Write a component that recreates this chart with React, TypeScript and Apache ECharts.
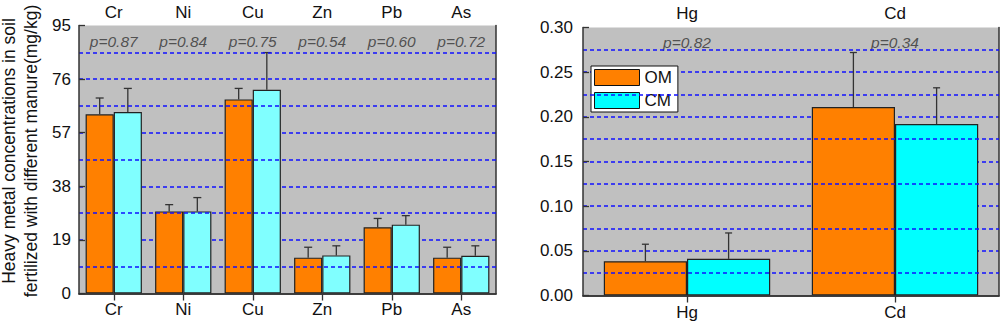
import React, { useEffect, useRef } from "react";
import * as echarts from "echarts";

const leftCategories = ["Cr", "Ni", "Cu", "Zn", "Pb", "As"];
const omLeft = [63.5, 29.1, 68.8, 12.7, 23.5, 12.7];
const omLeftTop = [69.3, 31.5, 72.7, 16.4, 26.6, 16.4];
const cmLeft = [64.3, 29.1, 72.2, 13.5, 24.4, 13.4];
const cmLeftTop = [72.7, 34.0, 85.4, 16.9, 27.6, 16.9];
const pLeft = ["0.87", "0.84", "0.75", "0.54", "0.60", "0.72"];

const rightCategories = ["Hg", "Cd"];
const omRight = [0.0384, 0.211];
const omRightTop = [0.0574, 0.272];
const cmRight = [0.041, 0.192];
const cmRightTop = [0.07, 0.2325];
const pRight = ["0.82", "0.34"];

const FONT = "Liberation Sans, Arial, sans-serif";
const ORANGE = "#FF8000";
const CYAN_L = "#80FFFF";
const CYAN_R = "#00FFFF";
const FRAME = "#333333";
const GRIDBLUE = "#1010FF";
const AXIS_FS = 17;

function errorRenderer(frac: number, cap: number) {
  return (params: any, api: any) => {
    const idx = api.value(0);
    const v = api.value(1);
    const top = api.value(2);
    const side = api.value(3);
    const band = api.size([1, 0])[0];
    const off = (side * band * frac) / 4;
    const p0 = api.coord([idx, v]);
    const p1 = api.coord([idx, top]);
    const x = p0[0] + off;
    const st = { stroke: "#333333", lineWidth: 1.3 };
    return {
      type: "group",
      children: [
        { type: "line", shape: { x1: x, y1: p0[1], x2: x, y2: p1[1] }, style: st },
        { type: "line", shape: { x1: x - cap, y1: p1[1], x2: x + cap, y2: p1[1] }, style: st },
      ],
    };
  };
}

export default function App() {
  const ref = useRef<HTMLDivElement>(null);
  useEffect(() => {
    if (!ref.current) return;
    const chart = echarts.init(ref.current, undefined, { renderer: "svg" });

    const catAxis = (grid: number, data: string[], pos: "top" | "bottom", margin: number, ticks: boolean) => ({
      type: "category",
      gridIndex: grid,
      data,
      position: pos,
      z: 8,
      axisLine: { show: true, lineStyle: { color: FRAME, width: 1.5 } },
      axisTick: { show: ticks, inside: true, length: 7, alignWithLabel: true, lineStyle: { color: FRAME, width: 1.3 } },
      axisLabel: { show: true, margin, fontSize: AXIS_FS, color: "#111", fontFamily: FONT },
      splitLine: { show: false },
    });

    const valAxis = (grid: number, max: number, interval: number, margin: number, fmt?: (v: number) => string) => ({
      type: "value",
      gridIndex: grid,
      position: "left",
      min: 0,
      max,
      interval,
      z: 7,
      axisLine: { show: true, lineStyle: { color: FRAME, width: 1.5 } },
      axisTick: { show: true, inside: true, length: 6, lineStyle: { color: FRAME, width: 1.3 } },
      axisLabel: { show: true, margin, fontSize: AXIS_FS, color: "#111", fontFamily: FONT, formatter: fmt },
      splitLine: { show: false },
      minorTick: { show: false, splitNumber: 2 },
      minorSplitLine: { show: true, lineStyle: { color: GRIDBLUE, width: 1.5, type: [4, 3] } },
    });

    const rightFrame = (grid: number, max: number, interval: number) => ({
      type: "value",
      gridIndex: grid,
      position: "right",
      min: 0,
      max,
      interval,
      z: 1,
      axisLine: { show: true, lineStyle: { color: FRAME, width: 1.5 } },
      axisTick: { show: false },
      axisLabel: { show: false },
      splitLine: {
        show: true,
        showMinLine: false,
        showMaxLine: false,
        lineStyle: { color: GRIDBLUE, width: 1.5, type: [4, 3] },
      },
    });

    const option: any = {
      animation: false,
      textStyle: { fontFamily: FONT },
      grid: [
        { left: 79, top: 25.5, width: 417, height: 268, show: true, backgroundColor: "#C0C0C0", borderWidth: 0 },
        { left: 583, top: 27.5, width: 416, height: 268, show: true, backgroundColor: "#C0C0C0", borderWidth: 0 },
      ],
      xAxis: [
        catAxis(0, leftCategories, "bottom", 7, false),
        catAxis(0, leftCategories, "top", 5, true),
        catAxis(1, rightCategories, "bottom", 8, false),
        catAxis(1, rightCategories, "top", 6, true),
      ],
      yAxis: [
        valAxis(0, 95, 19, 8),
        rightFrame(0, 95, 19),
        valAxis(1, 0.3, 0.05, 10, (v: number) => v.toFixed(2)),
        rightFrame(1, 0.3, 0.05),
      ],
      legend: {
        show: true,
        data: ["OM", "CM"],
        orient: "vertical",
        left: 591,
        top: 66,
        itemWidth: 45,
        itemHeight: 16,
        itemGap: 6,
        padding: [3, 6, 3, 3],
        backgroundColor: "#FFFFFF",
        borderColor: "#111",
        borderWidth: 1,
        icon: "rect",
        itemStyle: { borderColor: "#111", borderWidth: 1 },
        textStyle: { fontSize: AXIS_FS, color: "#111", fontFamily: FONT },
        selectedMode: false,
      },
      graphic: [
        {
          type: "text",
          x: 20,
          y: 151,
          rotation: Math.PI / 2,
          silent: true,
          style: {
            text: "Heavy metal concentrations in soil\nfertilized with different manure(mg/kg)",
            fontSize: 17.5,
            fontFamily: FONT,
            fill: "#111",
            lineHeight: 22,
            align: "center",
            verticalAlign: "middle",
            textAlign: "center",
            textVerticalAlign: "middle",
          },
        },
      ],
      series: [
        {
          name: "OM",
          type: "bar",
          xAxisIndex: 2,
          yAxisIndex: 2,
          data: omRight,
          barGap: "0%",
          barCategoryGap: "20%",
          itemStyle: { color: ORANGE, borderColor: "#222", borderWidth: 1.2 },
          silent: true,
          z: 3,
        },
        {
          name: "CM",
          type: "bar",
          xAxisIndex: 2,
          yAxisIndex: 2,
          data: cmRight,
          barGap: "0%",
          barCategoryGap: "20%",
          itemStyle: { color: CYAN_R, borderColor: "#222", borderWidth: 1.2 },
          silent: true,
          z: 3,
        },
        {
          type: "custom",
          xAxisIndex: 2,
          yAxisIndex: 2,
          silent: true,
          z: 4,
          renderItem: errorRenderer(0.8, 3.5),
          encode: { x: 0, y: 2 },
          data: [
            ...rightCategories.map((_, i) => [i, omRight[i], omRightTop[i], -1]),
            ...rightCategories.map((_, i) => [i, cmRight[i], cmRightTop[i], 1]),
          ],
        },
        {
          type: "scatter",
          xAxisIndex: 2,
          yAxisIndex: 2,
          silent: true,
          symbolSize: 0,
          z: 6,
          data: rightCategories.map((_, i) => [i, 0.2836]),
          label: {
            show: true,
            position: "inside",
            fontSize: 15.5,
            fontStyle: "italic",
            color: "#333",
            fontFamily: FONT,
            formatter: (p: any) => "p=" + pRight[p.dataIndex],
          },
        },
        {
          name: "OM",
          type: "bar",
          xAxisIndex: 0,
          yAxisIndex: 0,
          data: omLeft,
          barGap: "0%",
          barCategoryGap: "19%",
          itemStyle: { color: ORANGE, borderColor: "#222", borderWidth: 1.2 },
          silent: true,
          z: 3,
        },
        {
          name: "CM",
          type: "bar",
          xAxisIndex: 0,
          yAxisIndex: 0,
          data: cmLeft,
          barGap: "0%",
          barCategoryGap: "19%",
          itemStyle: { color: CYAN_L, borderColor: "#222", borderWidth: 1.2 },
          silent: true,
          z: 3,
        },
        {
          type: "custom",
          xAxisIndex: 0,
          yAxisIndex: 0,
          silent: true,
          z: 4,
          renderItem: errorRenderer(0.81, 4),
          encode: { x: 0, y: 2 },
          data: [
            ...leftCategories.map((_, i) => [i, omLeft[i], omLeftTop[i], -1]),
            ...leftCategories.map((_, i) => [i, cmLeft[i], cmLeftTop[i], 1]),
          ],
        },
        {
          type: "scatter",
          xAxisIndex: 0,
          yAxisIndex: 0,
          silent: true,
          symbolSize: 0,
          z: 6,
          data: leftCategories.map((_, i) => [i, 89.3]),
          label: {
            show: true,
            position: "inside",
            fontSize: 15.5,
            fontStyle: "italic",
            color: "#333",
            fontFamily: FONT,
            formatter: (p: any) => "p=" + pLeft[p.dataIndex],
          },
        },
      ],
    };
    chart.setOption(option);
    return () => chart.dispose();
  }, []);
  return (
    <div
      ref={ref}
      style={{ position: "fixed", left: 0, top: 0, width: 1000, height: 321, background: "#fff" }}
    />
  );
}
